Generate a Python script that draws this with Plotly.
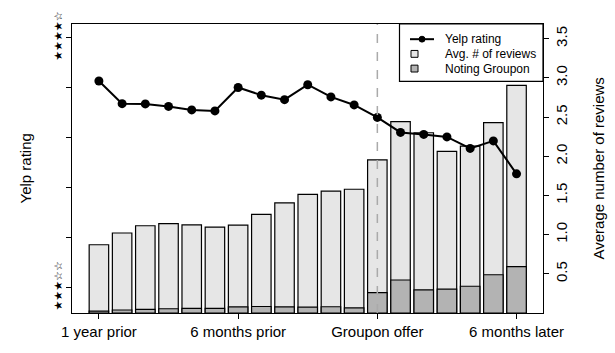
import plotly.graph_objects as go

# ---- data ----
periods = list(range(19))
rating = [3.827, 3.736, 3.735, 3.725, 3.711, 3.707, 3.801, 3.770, 3.752, 3.812,
          3.763, 3.731, 3.681, 3.621, 3.613, 3.603, 3.557, 3.587, 3.455]
avg_reviews = [0.871, 1.021, 1.113, 1.141, 1.125, 1.096, 1.121, 1.259, 1.404, 1.513,
               1.554, 1.579, 1.954, 2.441, 2.300, 2.063, 2.129, 2.429, 2.904]
noting_groupon = [0.025, 0.038, 0.046, 0.054, 0.058, 0.058, 0.079, 0.083, 0.079, 0.075,
                  0.080, 0.065, 0.259, 0.421, 0.296, 0.304, 0.341, 0.488, 0.591]
x_tick_positions = [0, 6, 12, 18]
x_tick_labels = ["1 year prior", "6 months prior", "Groupon offer", "6 months later"]
offer_period = 12
rating_ticks = [3.0, 3.2, 3.4, 3.6, 3.8, 4.0]
rating_tick_labels = ["★★★☆☆", "", "", "", "", "★★★★☆"]
review_ticks = [0.5, 1.0, 1.5, 2.0, 2.5, 3.0, 3.5]
review_tick_labels = ["0.5", "1.0", "1.5", "2.0", "2.5", "3.0", "3.5"]
legend_labels = ["Yelp rating", "Avg. # of reviews", "Noting Groupon"]

FONT = "Liberation Sans, Arial, sans-serif"
LIGHT = "#e6e6e6"
DARK = "#b3b3b3"

# plot area geometry (pixels) used for the hand-drawn legend
W, H = 615, 353
ML, MR, MT, MB = 72, 72, 18, 40
PW, PH = W - ML - MR, H - MT - MB


def px(xp):
    return (xp - ML) / PW


def py(yp):
    return (H - MB - yp) / PH


fig = go.Figure()

fig.add_trace(go.Scatter(
    x=periods, y=rating, name=legend_labels[0], mode="lines+markers",
    line=dict(color="black", width=2), marker=dict(color="black", size=9),
    yaxis="y2", showlegend=False))

fig.add_trace(go.Bar(
    x=periods, y=avg_reviews, name=legend_labels[1], width=0.84,
    marker=dict(color=LIGHT, line=dict(color="black", width=1.2)),
    yaxis="y", showlegend=False))

fig.add_trace(go.Bar(
    x=periods, y=noting_groupon, name=legend_labels[2], width=0.84,
    marker=dict(color=DARK, line=dict(color="black", width=1.2)),
    yaxis="y", showlegend=False))

fig.add_shape(type="line", xref="x", yref="paper", x0=offer_period, x1=offer_period,
              y0=0, y1=1, line=dict(color="#aaaaaa", width=1.5, dash="dash"),
              layer="above")

# legend box (drawn by hand to match the compact R legend)
shapes = [
    dict(type="rect", xref="paper", yref="paper", x0=px(399.5), x1=1, y0=py(76.5), y1=1,
         fillcolor="white", line=dict(color="black", width=1.2), layer="above"),
    dict(type="line", xref="paper", yref="paper", x0=px(410), x1=px(434),
         y0=py(33.5), y1=py(33.5), line=dict(color="black", width=2), layer="above"),
    dict(type="circle", xref="paper", yref="paper", x0=px(422 - 3), x1=px(422 + 3),
         y0=py(33.5 + 3), y1=py(33.5 - 3), fillcolor="black",
         line=dict(color="black", width=1), layer="above"),
]
for yc, col in [(48.5, LIGHT), (63.5, DARK)]:
    shapes.append(dict(type="rect", xref="paper", yref="paper", x0=px(411), x1=px(418),
                       y0=py(yc + 3.5), y1=py(yc - 3.5), fillcolor=col,
                       line=dict(color="black", width=1), layer="above"))
for s in shapes:
    fig.add_shape(**s)

annotations = [
    dict(text="Yelp rating", xref="paper", yref="paper", x=px(25), xanchor="center",
         y=0.5, yanchor="middle", textangle=-90, showarrow=False, font=dict(size=15)),
    dict(text="Average number of reviews", xref="paper", yref="paper",
         x=px(598), xanchor="center", y=0.5, yanchor="middle", textangle=-90,
         showarrow=False, font=dict(size=15)),
]
for lab, yc in zip(legend_labels, [33.5, 48.5, 63.5]):
    annotations.append(dict(text=lab, xref="paper", yref="paper", x=px(443),
                            xanchor="left", y=py(yc), yanchor="middle",
                            showarrow=False, font=dict(size=12)))

fig.update_layout(
    width=W, height=H,
    margin=dict(l=ML, r=MR, t=MT, b=MB),
    paper_bgcolor="white", plot_bgcolor="white",
    barmode="overlay",
    showlegend=False,
    font=dict(family=FONT, size=15, color="black"),
    xaxis=dict(range=[-1.16, 19.14], tickvals=x_tick_positions, ticktext=x_tick_labels,
               ticks="outside", ticklen=5, tickcolor="black", showgrid=False,
               zeroline=False, showline=True, mirror=True, linecolor="black",
               linewidth=1.2, tickfont=dict(size=15)),
    yaxis=dict(side="right", range=[0, 3.6875], tickvals=review_ticks,
               ticktext=review_tick_labels, ticks="outside", ticklen=5,
               tickcolor="black", tickangle=-90, showgrid=False, zeroline=False,
               showline=True, mirror=True, linecolor="black", linewidth=1.2,
               tickfont=dict(size=15)),
    yaxis2=dict(overlaying="y", side="left", range=[2.898, 4.055],
                tickvals=rating_ticks, ticktext=rating_tick_labels, ticks="outside",
                ticklen=5, tickcolor="black", tickangle=-90, showgrid=False,
                zeroline=False, showline=False,
                tickfont=dict(size=11, family="DejaVu Sans")),
    annotations=annotations,
)

fig.write_html("out.html")
